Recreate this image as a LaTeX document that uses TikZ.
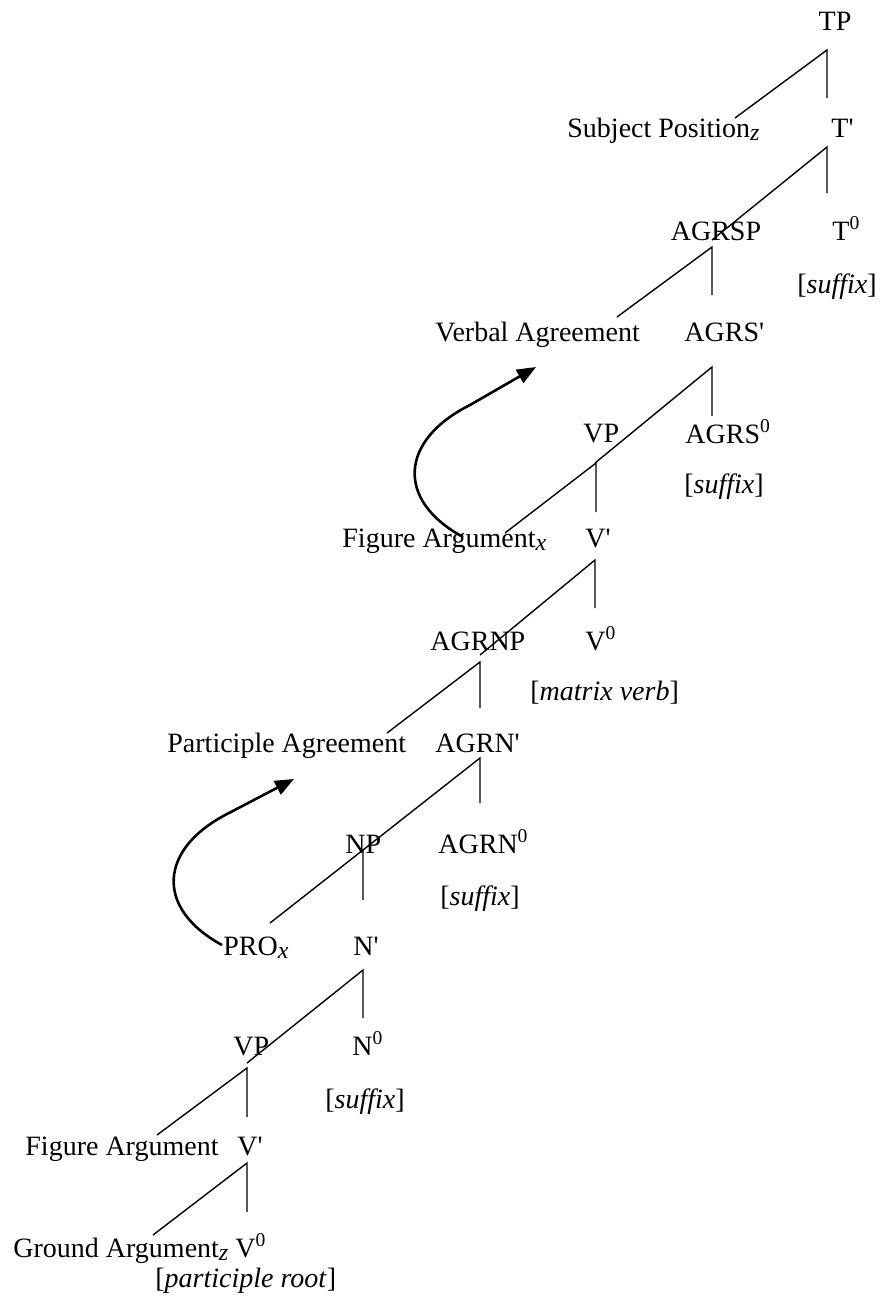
\documentclass[tikz,border=0pt]{standalone}
\usepackage{fontspec}
\setmainfont{Liberation Serif}[Ligatures=TeXOff]
\usetikzlibrary{arrows.meta}
\tikzset{
  lbl/.style={anchor=base west, inner sep=0pt, font=\fontsize{14}{16}\selectfont},
  branch/.style={line width=0.7pt},
  move/.style={line width=1.3pt, -{Triangle[length=9.5pt,width=7.5pt]}}
}
\newcommand{\sbx}[1]{\raisebox{-1.8pt}{\fontsize{12}{12}\selectfont\itshape #1}}
\newcommand{\spz}{\textsuperscript{0}}
\begin{document}
\begin{tikzpicture}[x=0.5pt,y=-0.5pt]
\fill[white] (0,0) rectangle (888,1311);
\useasboundingbox (0,0) rectangle (888,1311);
% labels
\node[lbl, anchor=base] (tp) at (835,31) {TP};
\node[lbl] (subj) at (567,137) {Subject Position\sbx{z}};
\node[lbl] (tbar) at (831,137) {T'};
\node[lbl, anchor=base] (agrsp) at (716,240) {AGRSP};
\node[lbl] (t0) at (832,240) {T\spz};
\node[lbl, anchor=base] (suf1) at (837,293) {[\textit{suffix}]};
\node[lbl] (verbagr) at (435,341) {Verbal Agreement};
\node[lbl] (agrsbar) at (684,341) {AGRS'};
\node[lbl] (agrs0) at (685,443) {AGRS\spz};
\node[lbl] (suf2) at (684,493) {[\textit{suffix}]};
\node[lbl] (vp1) at (583,442) {VP};
\node[lbl] (figx) at (342,547) {Figure Argument\sbx{x}};
\node[lbl] (vbar1) at (585,547) {V'};
\node[lbl] (agrnp) at (430,650) {AGRNP};
\node[lbl] (v01) at (585,650) {V\spz};
\node[lbl] (matrix) at (530,700) {[\textit{matrix verb}]};
\node[lbl] (partagr) at (167,752) {Participle Agreement};
\node[lbl] (agrnbar) at (435,752) {AGRN'};
\node[lbl] (np) at (345,853) {NP};
\node[lbl] (agrn0) at (438,853) {AGRN\spz};
\node[lbl] (suf3) at (440,905) {[\textit{suffix}]};
\node[lbl] (pro) at (223,955) {PRO\sbx{x}};
\node[lbl] (nbar) at (353,955) {N'};
\node[lbl] (vp2) at (233,1055) {VP};
\node[lbl] (n0) at (352,1055) {N\spz};
\node[lbl] (suf4) at (325,1108) {[\textit{suffix}]};
\node[lbl] (fig) at (25,1155) {Figure Argument};
\node[lbl] (vbar2) at (237,1155) {V'};
\node[lbl] (ground) at (13,1257) {Ground Argument\sbx{z}};
\node[lbl] (v02) at (235,1257) {V\spz};
\node[lbl] (root) at (155,1287) {[\textit{participle root}]};
% branch points
\coordinate (a1) at (827,50);   \coordinate (l1) at (735,118); \coordinate (r1) at (827,98);
\coordinate (a2) at (827,147);  \coordinate (l2) at (712,240); \coordinate (r2) at (827,193);
\coordinate (a3) at (712,247);  \coordinate (l3) at (617,317); \coordinate (r3) at (712,295);
\coordinate (a4) at (712,367);  \coordinate (l4) at (595,463); \coordinate (r4) at (712,416);
\coordinate (a5) at (596,463);  \coordinate (l5) at (505,533); \coordinate (r5) at (596,512);
\coordinate (a6) at (595,560);  \coordinate (l6) at (480,655); \coordinate (r6) at (595,608);
\coordinate (a7) at (480,662);  \coordinate (l7) at (387,733); \coordinate (r7) at (480,708);
\coordinate (a8) at (480,758);  \coordinate (l8) at (363,850); \coordinate (r8) at (480,803);
\coordinate (a9) at (363,850);  \coordinate (l9) at (270,923); \coordinate (r9) at (363,900);
\coordinate (a10) at (363,970); \coordinate (l10) at (247,1063); \coordinate (r10) at (363,1018);
\coordinate (a11) at (247,1068); \coordinate (l11) at (157,1135); \coordinate (r11) at (247,1117);
\coordinate (a12) at (247,1163); \coordinate (l12) at (153,1235); \coordinate (r12) at (247,1212);
\foreach \i in {1,...,12}{
  \draw[branch] (l\i) -- (a\i) -- (r\i);
}
% movement arrows
\coordinate (m1s) at (463,537); \coordinate (m1t) at (536,367);
\draw[move] (m1s) .. controls (395,500) and (400,440) .. (470,405) -- (m1t);
\coordinate (m2s) at (222,945); \coordinate (m2t) at (294,779);
\draw[move] (m2s) .. controls (154,908) and (159,848) .. (229,813) -- (m2t);
\end{tikzpicture}
\end{document}
